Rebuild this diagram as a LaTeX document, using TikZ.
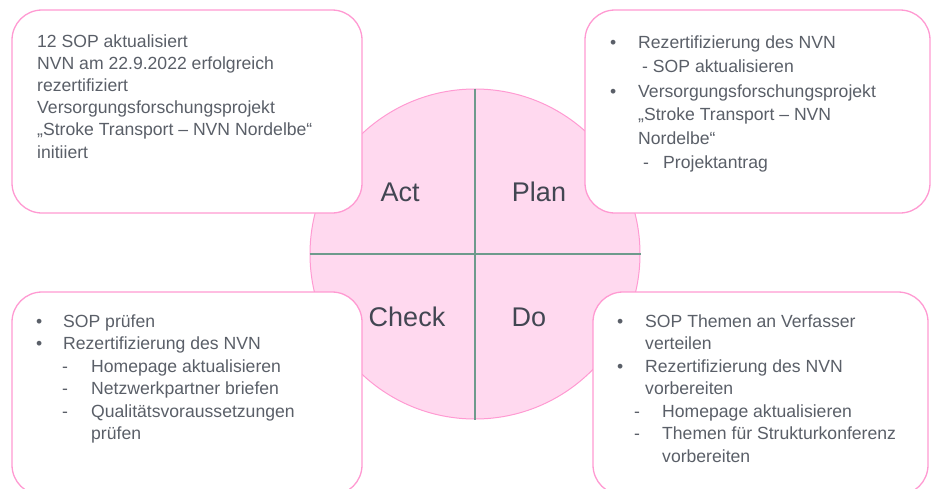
\documentclass[tikz,border=0pt]{standalone}
\usepackage{fontspec}
\setmainfont{Liberation Sans}
\definecolor{pinkline}{HTML}{FF9AD2}
\definecolor{pinkfill}{HTML}{FFD9EF}
\definecolor{axis}{HTML}{6E9A8C}
\definecolor{txt}{HTML}{5A5F68}
\definecolor{lbl}{HTML}{424652}
\tikzset{
  box/.style={draw=pinkline, line width=1.3pt, fill=white, rounded corners=30pt, inner sep=0pt},
  tl/.style={anchor=base west, inner sep=0pt, text=txt, font=\fontsize{17.6}{20}\selectfont},
  quad/.style={anchor=center, inner sep=0pt, text=lbl, font=\fontsize{27}{30}\selectfont},
}
\newcommand\txtline[4]{\node[tl] (#1) at (#2,#3) {#4};}
\begin{document}
\begin{tikzpicture}[x=1pt,y=-1pt]
\useasboundingbox (0,0) rectangle (931,488);
\begin{scope}
\clip (0,0) rectangle (931,488);
% circle
\node[circle, draw=pinkline, fill=pinkfill, line width=1pt, minimum size=330pt, inner sep=0pt] (c) at (475,254) {};
\draw[axis, line width=1.3pt] (c.north) -- (c.south);
\draw[axis, line width=1.3pt] (c.west) -- (c.east);
\node[quad] (act) at (400,192) {Act};
\node[quad] (plan) at (539,192) {Plan};
\node[quad] (check) at (407,317) {Check};
\node[quad] (do) at (529,317) {Do};
% boxes
\node[box, minimum width=350pt, minimum height=203pt] (bTL) at (187,111.5) {};
\node[box, minimum width=345pt, minimum height=203pt] (bTR) at (757.5,111.5) {};
\node[box, minimum width=350pt, minimum height=203pt] (bBL) at (187,393.5) {};
\node[box, minimum width=335pt, minimum height=203pt] (bBR) at (760.5,393.5) {};
\end{scope}
% top-left text
\txtline{a1}{37}{47}{12 SOP aktualisiert}
\txtline{a2}{37}{69}{NVN am 22.9.2022 erfolgreich}
\txtline{a3}{37}{91}{rezertifiziert}
\txtline{a4}{37}{113}{Versorgungsforschungsprojekt}
\txtline{a5}{37}{135}{„Stroke Transport – NVN Nordelbe“}
\txtline{a6}{37}{158}{initiiert}
% top-right text
\txtline{p1b}{610}{48}{•}
\txtline{p1}{638}{48}{Rezertifizierung des NVN}
\txtline{p2}{642}{72}{- SOP aktualisieren}
\txtline{p3b}{610}{97}{•}
\txtline{p3}{638}{97}{Versorgungsforschungsprojekt}
\txtline{p4}{638}{120}{„Stroke Transport – NVN}
\txtline{p5}{638}{144}{Nordelbe“}
\txtline{p6d}{643}{168}{-}
\txtline{p6}{663}{168}{Projektantrag}
% bottom-left text
\txtline{c1b}{36}{327}{•}
\txtline{c1}{63}{327}{SOP prüfen}
\txtline{c2b}{36}{349}{•}
\txtline{c2}{63}{349}{Rezertifizierung des NVN}
\txtline{c3d}{62}{372}{-}
\txtline{c3}{91}{372}{Homepage aktualisieren}
\txtline{c4d}{62}{394}{-}
\txtline{c4}{91}{394}{Netzwerkpartner briefen}
\txtline{c5d}{62}{417}{-}
\txtline{c5}{91}{417}{Qualitätsvoraussetzungen}
\txtline{c6}{91}{439}{prüfen}
% bottom-right text
\txtline{d1b}{617}{327}{•}
\txtline{d1}{645}{327}{SOP Themen an Verfasser}
\txtline{d2}{645}{349}{verteilen}
\txtline{d3b}{617}{372}{•}
\txtline{d3}{645}{372}{Rezertifizierung des NVN}
\txtline{d4}{645}{394}{vorbereiten}
\txtline{d5d}{634}{417}{-}
\txtline{d5}{662}{417}{Homepage aktualisieren}
\txtline{d6d}{634}{439}{-}
\txtline{d6}{662}{439}{Themen für Strukturkonferenz}
\txtline{d7}{662}{462}{vorbereiten}
\end{tikzpicture}
\end{document}
